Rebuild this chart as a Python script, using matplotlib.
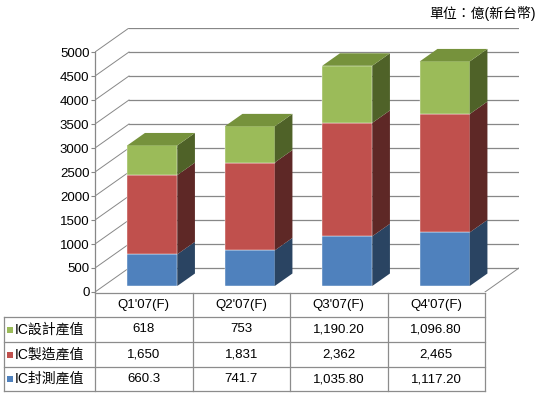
import matplotlib
matplotlib.use("Agg")
import matplotlib.pyplot as plt
from matplotlib.patches import Polygon, Rectangle

plt.rcParams['font.family'] = ['Liberation Sans', 'Noto Sans CJK TC', 'DejaVu Sans']

# ---------------- data ----------------
categories = ["Q1'07(F)", "Q2'07(F)", "Q3'07(F)", "Q4'07(F)"]
series_names = ["IC設計產值", "IC製造產值", "IC封測產值"]
design_txt = ["618", "753", "1,190.20", "1,096.80"]
manufacture_txt = ["1,650", "1,831", "2,362", "2,465"]
packaging_txt = ["660.3", "741.7", "1,035.80", "1,117.20"]
yticks = [0, 500, 1000, 1500, 2000, 2500, 3000, 3500, 4000, 4500, 5000]
unit_label = "單位：億(新台幣)"

def to_num(lst):
    return [float(s.replace(",", "")) for s in lst]

design = to_num(design_txt)
manufacture = to_num(manufacture_txt)
packaging = to_num(packaging_txt)

# stacking order bottom -> top
stack = [packaging, manufacture, design]
front_cols = ["#4F81BD", "#C0504D", "#9BBB59"]
side_cols = ["#2A4462", "#5E2826", "#4F6228"]
top_col = "#76923C"
legend_cols = ["#9BBB59", "#C0504D", "#4F81BD"]
table_rows = [design_txt, manufacture_txt, packaging_txt]

# ---------------- layout ----------------
W, H = 540, 395
fig = plt.figure(figsize=(W / 100, H / 100), dpi=100)

CAT_PX = 97.5
LEFT_PX = 95
FRONT0_PX = 292
DEPTH_PX_X = 34
VAL_PER_PX = 5000 / 240.0
DX = DEPTH_PX_X / CAT_PX
DY = 24 * VAL_PER_PX
YMAX = 5000
n = len(categories)

ax_w = n * CAT_PX + DEPTH_PX_X
ax_h = (YMAX + DY) / VAL_PER_PX
ax = fig.add_axes([LEFT_PX / W, 1 - FRONT0_PX / H, ax_w / W, ax_h / H])
ax.set_xlim(-0.5, n - 0.5 + DX)
ax.set_ylim(0, YMAX + DY)
ax.patch.set_alpha(0)

grid_c = "#878787"
# back wall gridlines + side wall slants
for v in yticks:
    ax.plot([-0.5 + DX, n - 0.5 + DX], [v + DY, v + DY], color=grid_c, lw=0.9, zorder=1)
    ax.plot([-0.5, -0.5 + DX], [v, v + DY], color=grid_c, lw=0.7, zorder=1)
# floor right edge
ax.plot([n - 0.5, n - 0.5 + DX], [0, DY], color=grid_c, lw=0.7, zorder=1)

for s in ["top", "right", "bottom"]:
    ax.spines[s].set_visible(False)
ax.spines["left"].set_bounds(0, YMAX)
ax.spines["left"].set_color(grid_c)
ax.spines["left"].set_linewidth(0.9)
ax.set_yticks(yticks)
ax.set_yticklabels([str(v) for v in yticks])
ax.tick_params(axis="y", direction="out", length=3, width=0.8, color=grid_c,
               labelsize=9.5, pad=1)
ax.set_xticks([])

# bars
BW = 50 / CAT_PX
BD = 0.52
OFF = 0.25
for i in range(n):
    xc = i + OFF * DX
    x0, x1 = xc - BW / 2, xc + BW / 2
    base = OFF * DY
    cum = 0.0
    for k, vals in enumerate(stack):
        v = vals[i]
        b, t = base + cum, base + cum + v
        ax.bar(xc, v, bottom=b, width=BW, color=front_cols[k],
               edgecolor="#ffffff", linewidth=0.3, zorder=3)
        side = Polygon([(x1, b), (x1 + BD * DX, b + BD * DY),
                        (x1 + BD * DX, t + BD * DY), (x1, t)],
                       closed=True, facecolor=side_cols[k], edgecolor="none", zorder=3)
        ax.add_patch(side)
        cum += v
    T = base + cum
    top = Polygon([(x0, T), (x1, T), (x1 + BD * DX, T + BD * DY), (x0 + BD * DX, T + BD * DY)],
                  closed=True, facecolor=top_col, edgecolor="none", zorder=3)
    ax.add_patch(top)

# ---------------- table (overlay in pixel coords) ----------------
ov = fig.add_axes([0, 0, 1, 1])
ov.set_xlim(0, W)
ov.set_ylim(H, 0)
ov.axis("off")
ov.patch.set_alpha(0)

tab_c = "#8C8C8C"
col_x = [LEFT_PX + j * CAT_PX for j in range(n + 1)]
row_y = [293, 317, 342, 367, 391]
label_left = 4

# horizontal lines
ov.plot([col_x[0], col_x[-1]], [row_y[0], row_y[0]], color=tab_c, lw=0.9)
for yy in row_y[1:]:
    ov.plot([label_left, col_x[-1]], [yy, yy], color=tab_c, lw=0.9)
# vertical lines
for xx in col_x:
    ov.plot([xx, xx], [row_y[0], row_y[-1]], color=tab_c, lw=0.9)
ov.plot([label_left, label_left], [row_y[1], row_y[-1]], color=tab_c, lw=0.9)

for j, c in enumerate(categories):
    ov.text((col_x[j] + col_x[j + 1]) / 2, (row_y[0] + row_y[1]) / 2, c,
            ha="center", va="center", fontsize=9.5)

for r in range(3):
    yc = (row_y[r + 1] + row_y[r + 2]) / 2
    ov.add_patch(Rectangle((7, yc - 3), 6, 6, facecolor=legend_cols[r], edgecolor="none"))
    ov.text(15, yc, series_names[r], ha="left", va="center", fontsize=10)
    for j in range(n):
        ov.text((col_x[j] + col_x[j + 1]) / 2, yc, table_rows[r][j],
                ha="center", va="center", fontsize=9.5)

ov.text(536, 13, unit_label, ha="right", va="center", fontsize=10)

fig.savefig("out.png", dpi=100)
